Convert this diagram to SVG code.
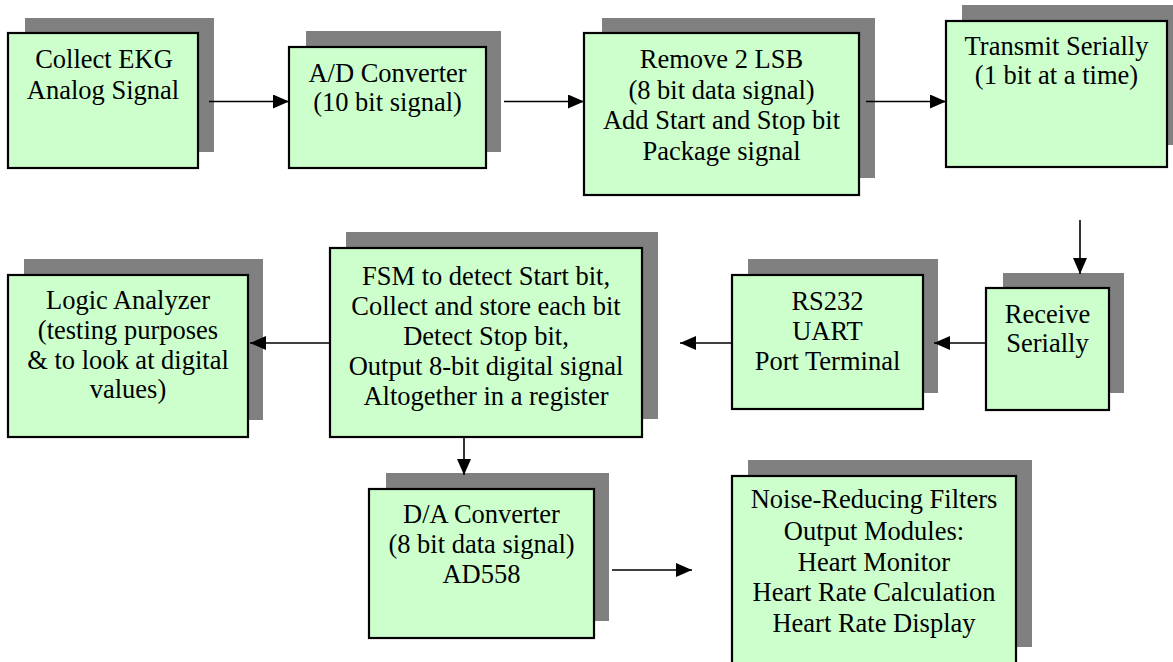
<svg xmlns="http://www.w3.org/2000/svg" width="1173" height="662" viewBox="0 0 1173 662">
<style>
.sh{fill:#808080;stroke:none}
.bx{fill:#ccffcc;stroke:#000;stroke-width:2.2}
.t{font-family:"Liberation Serif","Times New Roman",serif;font-size:26.5px;fill:#000;text-anchor:middle}
.c{stroke:#000;stroke-width:1.6;fill:none;marker-end:url(#ah)}
</style>
<defs>
<marker id="ah" markerUnits="userSpaceOnUse" markerWidth="16" markerHeight="14" refX="16" refY="7" orient="auto">
<path d="M0,0 L16,7 L0,14 z" fill="#000"/>
</marker>
</defs>
<rect width="1173" height="662" fill="#fff"/>
<g id="n1">
<rect class="sh" x="25" y="18" width="189" height="134"/>
<rect class="bx" x="8" y="33" width="190" height="135"/>
<text class="t" x="104" y="68">Collect EKG</text>
<text class="t" x="103" y="99">Analog Signal</text>
</g>
<g id="n2">
<rect class="sh" x="306" y="31" width="195" height="121"/>
<rect class="bx" x="289" y="47" width="197" height="121"/>
<text class="t" x="387.5" y="82">A/D Converter</text>
<text class="t" x="387.5" y="111">(10 bit signal)</text>
</g>
<g id="n3">
<rect class="sh" x="602" y="18" width="273" height="160"/>
<rect class="bx" x="584" y="33" width="275" height="162"/>
<text class="t" x="721.5" y="68">Remove 2 LSB</text>
<text class="t" x="721.5" y="99">(8 bit data signal)</text>
<text class="t" x="721.5" y="129">Add Start and Stop bit</text>
<text class="t" x="721.5" y="159.5">Package signal</text>
</g>
<g id="n4">
<rect class="sh" x="962" y="5" width="221" height="140"/>
<rect class="bx" x="946" y="21" width="221" height="146"/>
<text class="t" x="1056.5" y="55">Transmit Serially</text>
<text class="t" x="1056.5" y="84">(1 bit at a time)</text>
</g>
<g id="n5">
<rect class="sh" x="1003" y="273" width="121" height="120"/>
<rect class="bx" x="986" y="288" width="123" height="122"/>
<text class="t" x="1047.5" y="323">Receive</text>
<text class="t" x="1047.5" y="352">Serially</text>
</g>
<g id="n6">
<rect class="sh" x="748" y="259" width="190" height="134"/>
<rect class="bx" x="732" y="275" width="191" height="134"/>
<text class="t" x="827.5" y="310">RS232</text>
<text class="t" x="827.5" y="340">UART</text>
<text class="t" x="827.5" y="370">Port Terminal</text>
</g>
<g id="n7">
<rect class="sh" x="346" y="232" width="312" height="187"/>
<rect class="bx" x="330" y="248" width="312" height="189"/>
<text class="t" x="486" y="285">FSM to detect Start bit,</text>
<text class="t" x="486" y="315">Collect and store each bit</text>
<text class="t" x="486" y="345">Detect Stop bit,</text>
<text class="t" x="486" y="375">Output 8-bit digital signal</text>
<text class="t" x="486" y="405">Altogether in a register</text>
</g>
<g id="n8">
<rect class="sh" x="24" y="259" width="239" height="161"/>
<rect class="bx" x="8" y="275" width="240" height="162"/>
<text class="t" x="128" y="309">Logic Analyzer</text>
<text class="t" x="128" y="339">(testing purposes</text>
<text class="t" x="128" y="369">&amp; to look at digital</text>
<text class="t" x="128" y="398">values)</text>
</g>
<g id="n9">
<rect class="sh" x="386" y="473" width="223" height="148"/>
<rect class="bx" x="369" y="489" width="225" height="149"/>
<text class="t" x="481.5" y="523">D/A Converter</text>
<text class="t" x="481.5" y="553">(8 bit data signal)</text>
<text class="t" x="481.5" y="583">AD558</text>
</g>
<g id="n10">
<rect class="sh" x="748" y="460" width="284" height="187"/>
<rect class="bx" x="732" y="476" width="284" height="200"/>
<text class="t" x="874" y="508">Noise-Reducing Filters</text>
<text class="t" x="874" y="540">Output Modules:</text>
<text class="t" x="874" y="571">Heart Monitor</text>
<text class="t" x="874" y="601">Heart Rate Calculation</text>
<text class="t" x="874" y="632">Heart Rate Display</text>
</g>
<g id="connectors">
<line class="c" x1="209" y1="101.5" x2="289" y2="101.5"/>
<line class="c" x1="504" y1="101.5" x2="584" y2="101.5"/>
<line class="c" x1="866" y1="101.5" x2="946" y2="101.5"/>
<line class="c" x1="1080" y1="220" x2="1080" y2="274"/>
<line class="c" x1="986" y1="343" x2="934" y2="343"/>
<line class="c" x1="732" y1="343" x2="680" y2="343"/>
<line class="c" x1="330" y1="343" x2="250" y2="343"/>
<line class="c" x1="464" y1="437" x2="464" y2="475"/>
<line class="c" x1="612" y1="570" x2="692" y2="570"/>
</g>
</svg>
